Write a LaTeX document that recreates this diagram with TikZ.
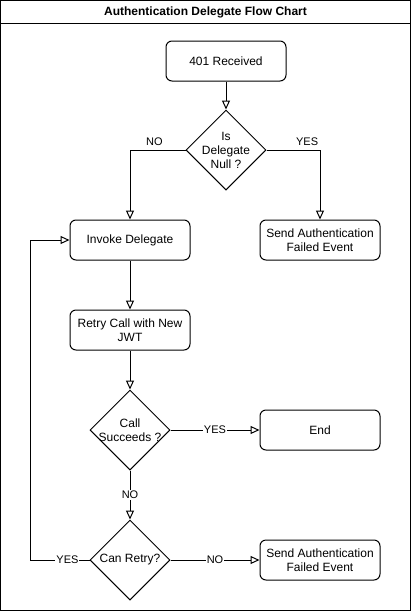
\documentclass[tikz,border=0pt]{standalone}
\usepackage{fontspec}
\setmainfont{Liberation Sans}
\usetikzlibrary{arrows.meta,shapes.geometric}

\begin{document}
\begin{tikzpicture}[x=1pt,y=-1pt,line width=1pt,
    box/.style={draw,rounded corners=6pt,minimum width=120pt,minimum height=40pt,
        align=center,inner sep=2pt,font=\fontsize{12}{14}\selectfont},
    decision/.style={draw,diamond,aspect=1,minimum width=80pt,minimum height=80pt,inner sep=0pt},
    dtext/.style={align=center,inner sep=0pt,font=\fontsize{12}{14}\selectfont},
    flow/.style={-{Triangle[open,length=9pt,width=8pt]}},
    lbl/.style={fill=white,inner sep=1pt,font=\fontsize{11}{13}\selectfont}
]

% Frame and title bar
\useasboundingbox (0,0) rectangle (411,611);
\draw (0.5,0.5) rectangle (410.5,610.5);
\draw (0.5,23) -- (410.5,23);
\node[font=\bfseries\fontsize{12}{14}\selectfont] (title) at (205.5,12) {Authentication Delegate Flow Chart};

% Boxes
\node[box] (recv) at (226,61) {401 Received};
\node[box] (invoke) at (130,240) {Invoke Delegate};
\node[box] (failA) at (320,240) {Send Authentication\\Failed Event};
\node[box] (retry) at (130,330) {Retry Call with New\\JWT};
\node[box] (done) at (320,430) {End};
\node[box] (failB) at (320,560) {Send Authentication\\Failed Event};

% Decisions (text set on top, so the diamond keeps its size)
\node[decision] (isnull) at (226,150) {};
\node[dtext] (isnulltxt) at (isnull) {Is\\Delegate\\Null ?};
\node[decision] (succeeds) at (130,430) {};
\node[dtext] (succeedstxt) at (succeeds) {Call\\Succeeds ?};
\node[decision] (canretry) at (130,560) {};
\node[dtext] (canretrytxt) at (canretry) {Can Retry?};

% Connectors
\draw[flow] (recv) -- (isnull);
\draw[flow] (isnull.west) -| node[pos=0.28,above=3pt,lbl,fill=none] {NO} (invoke.north);
\draw[flow] (isnull.east) -| node[pos=0.38,above=3pt,lbl,fill=none] {YES} (failA.north);
\draw[flow] (invoke) -- (retry);
\draw[flow] (retry) -- (succeeds.north);
\draw[flow] (succeeds.east) -- node[lbl] {YES} (done.west);
\draw[flow] (succeeds.south) -- node[lbl] {NO} (canretry.north);
\draw[flow] (canretry.east) -- node[lbl] {NO} (failB.west);

% Loop back to the delegate
\coordinate (back) at (30,560);
\draw[flow] (canretry.west) -- node[pos=0.37,lbl] {YES} (back) |- (invoke.west);

\end{tikzpicture}
\end{document}
